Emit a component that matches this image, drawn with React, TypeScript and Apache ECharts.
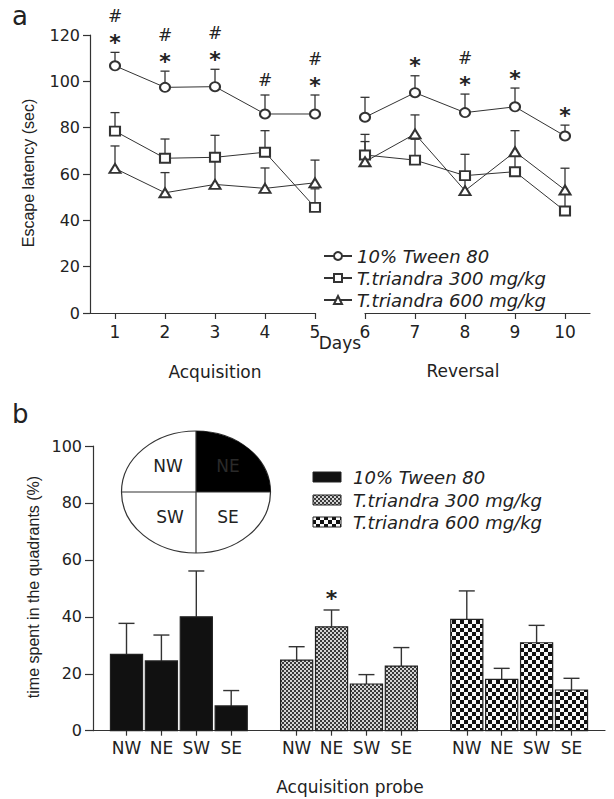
import React, { useEffect, useRef } from "react";
import * as echarts from "echarts";

// ---------- Panel a: escape latency ----------
const days = [1, 2, 3, 4, 5, 6, 7, 8, 9, 10];
const groupNames = ["10% Tween 80", "T.triandra 300 mg/kg", "T.triandra 600 mg/kg"];
const tweenMean = [106.7, 97.4, 97.7, 85.9, 85.9, 84.5, 95.1, 86.5, 89.0, 76.4];
const tweenSem = [5.8, 7.0, 7.5, 8.2, 8.2, 8.6, 7.3, 8.0, 8.1, 4.7];
const t300Mean = [78.5, 66.8, 67.2, 69.4, 45.6, 68.2, 66.0, 59.3, 61.0, 44.0];
const t300Sem = [8.0, 8.3, 9.5, 9.3, 8.0, 8.9, 9.0, 9.2, 7.0, 8.0];
const t600Mean = [62.4, 51.9, 55.5, 53.8, 56.2, 65.3, 77.3, 52.8, 69.6, 53.1];
const t600Sem = [9.7, 8.7, 10.0, 8.8, 9.8, 8.7, 8.2, 6.0, 9.1, 9.4];
const tweenMarks = ["#*", "#*", "#*", "#", "#*", "", "*", "#*", "*", "*"];
const acqTicks = [1, 2, 3, 4, 5];
const revTicks = [6, 7, 8, 9, 10];

// ---------- Panel b: quadrant time ----------
const quadrants = ["NW", "NE", "SW", "SE"];
const tweenQuad = [26.8, 24.5, 40.0, 8.7];
const tweenQuadSem = [10.9, 9.1, 16.1, 5.4];
const t300Quad = [24.8, 36.5, 16.4, 22.7];
const t300QuadSem = [4.7, 5.9, 3.3, 6.5];
const t600Quad = [39.1, 18.0, 30.9, 14.3];
const t600QuadSem = [10.0, 3.9, 6.1, 4.1];
const quadMarks = [
  ["", "", "", ""],
  ["", "*", "", ""],
  ["", "", "", ""],
];

const GROUP_STEP = 4.875;
const H = "DejaVu Sans";
const V = "Liberation Sans";
const INK = "#222";

function makePattern(size: number, cell: number, dark: string, light: string) {
  const c = document.createElement("canvas");
  c.width = size;
  c.height = size;
  const ctx = c.getContext("2d")!;
  ctx.fillStyle = light;
  ctx.fillRect(0, 0, size, size);
  ctx.fillStyle = dark;
  ctx.fillRect(0, 0, cell, cell);
  ctx.fillRect(cell, cell, cell, cell);
  return { image: c.toDataURL(), repeat: "repeat", imageWidth: size, imageHeight: size };
}

export default function App() {
  const ref = useRef<HTMLDivElement>(null);

  useEffect(() => {
    document.body.style.margin = "0";
    const chart = echarts.init(ref.current!, null, { renderer: "svg" });

    const means = [tweenMean, t300Mean, t600Mean];
    const sems = [tweenSem, t300Sem, t600Sem];
    const symbols = ["emptyCircle", "emptyRect", "emptyTriangle"];
    const symSizes = [
      [10, 9],
      [10, 9],
      [11, 9],
    ];

    const series: any[] = [];
    [0, 1].forEach((gi) => {
      const idxs = days.map((_, i) => i).filter((i) => (gi === 0 ? days[i] <= 5 : days[i] > 5));
      means.forEach((m, g) => {
        series.push({
          type: "line",
          name: groupNames[g],
          xAxisIndex: gi,
          yAxisIndex: gi,
          data: idxs.map((i) => [days[i], m[i]]),
          symbol: symbols[g],
          symbolSize: symSizes[g],
          clip: false,
          z: 3,
          lineStyle: { color: "#333", width: 1 },
          itemStyle: { color: "#333", borderColor: "#333", borderWidth: 1 },
        });
        series.push({
          type: "custom",
          name: "err" + g,
          xAxisIndex: gi,
          yAxisIndex: gi,
          z: 1,
          data: idxs.map((i) => [days[i], m[i], m[i] + sems[g][i]]),
          encode: { x: 0, y: [1, 2] },
          renderItem: (params: any, api: any) => {
            const x = api.value(0);
            const p1 = api.coord([x, api.value(1)]);
            const p2 = api.coord([x, api.value(2)]);
            const st = { stroke: "#333", lineWidth: 1.3 };
            return {
              type: "group",
              children: [
                { type: "line", shape: { x1: p1[0], y1: p1[1], x2: p2[0], y2: p2[1] }, style: st },
                { type: "line", shape: { x1: p2[0] - 4.5, y1: p2[1], x2: p2[0] + 4.5, y2: p2[1] }, style: st },
              ],
            };
          },
        });
      });
      series.push({
        type: "custom",
        name: "marks",
        xAxisIndex: gi,
        yAxisIndex: gi,
        z: 4,
        data: idxs.map((i) => [days[i], tweenMean[i] + tweenSem[i], i]),
        encode: { x: 0, y: 1 },
        renderItem: (params: any, api: any) => {
          const i = api.value(2);
          const p = api.coord([api.value(0), api.value(1)]);
          const chars = tweenMarks[i].split("").reverse();
          return {
            type: "group",
            children: chars.map((ch, k) => ({
              type: "text",
              style: {
                text: ch,
                x: p[0],
                y: p[1] - 15 - k * 21 + (ch === "*" ? 5 : 0),
                align: "center",
                verticalAlign: "middle",
                fill: INK,
                font: ch === "*" ? `bold 22px "${H}"` : `17px "${H}"`,
              },
            })),
          };
        },
      });
    });

    const pats = [
      "#111",
      makePattern(4, 2, "#3a3a3a", "#d4d4d4"),
      makePattern(8, 4, "#111", "#fafafa"),
    ];
    const quadVals = [tweenQuad, t300Quad, t600Quad];
    const quadSems = [tweenQuadSem, t300QuadSem, t600QuadSem];
    const positions: number[] = [];
    quadVals.forEach((_, g) => quadrants.forEach((_, i) => positions.push(g * GROUP_STEP + i)));

    quadVals.forEach((vals, g) => {
      series.push({
        type: "custom",
        name: "bar" + g,
        xAxisIndex: 2,
        yAxisIndex: 2,
        data: vals.map((v, i) => [g * GROUP_STEP + i, v, v + quadSems[g][i], i]),
        encode: { x: 0, y: [1, 2] },
        renderItem: (params: any, api: any) => {
          const x = api.value(0);
          const i = api.value(3);
          const base = api.coord([x, 0]);
          const top = api.coord([x, api.value(1)]);
          const et = api.coord([x, api.value(2)]);
          const w = api.size([1, 0])[0] * 0.92;
          const st = { stroke: "#333", lineWidth: 1.4 };
          const children: any[] = [
            { type: "line", shape: { x1: top[0], y1: top[1], x2: et[0], y2: et[1] }, style: st },
            { type: "line", shape: { x1: et[0] - 8, y1: et[1], x2: et[0] + 8, y2: et[1] }, style: st },
            {
              type: "rect",
              shape: { x: base[0] - w / 2, y: top[1], width: w, height: base[1] - top[1] },
              style: { fill: pats[g], stroke: "#222", lineWidth: 1.2 },
            },
          ];
          const mk = quadMarks[g][i];
          if (mk) {
            children.push({
              type: "text",
              style: {
                text: mk,
                x: et[0],
                y: et[1] - 16 + 5,
                align: "center",
                verticalAlign: "middle",
                fill: INK,
                font: `bold 22px "${H}"`,
              },
            });
          }
          return { type: "group", children };
        },
      });
    });

    const axisLine = { show: true, onZero: false, lineStyle: { color: "#333", width: 1.2 } };
    const tickLabel = { color: INK, fontFamily: H, fontSize: 16 };

    const RX = 74.5;
    const RY = 61;
    const CX = 196;
    const CY = 492;

    const graphic: any[] = [
      { type: "text", x: 12, y: 16, style: { text: "a", font: `26px "${H}"`, fill: INK, verticalAlign: "middle" } },
      { type: "text", x: 12, y: 414, style: { text: "b", font: `26px "${H}"`, fill: INK, verticalAlign: "middle" } },
      {
        type: "text",
        x: 28,
        y: 173,
        rotation: Math.PI / 2,
        style: { text: "Escape latency (sec)", font: `16px "${V}"`, fill: INK, align: "center", verticalAlign: "middle" },
      },
      {
        type: "text",
        x: 33,
        y: 587,
        rotation: Math.PI / 2,
        style: { text: "time spent in the quadrants (%)", font: `16px "${V}"`, fill: INK, align: "center", verticalAlign: "middle" },
      },
      { type: "text", x: 340, y: 343, style: { text: "Days", font: `17px "${H}"`, fill: INK, align: "center", verticalAlign: "middle" } },
      { type: "text", x: 215, y: 372, style: { text: "Acquisition", font: `17px "${H}"`, fill: INK, align: "center", verticalAlign: "middle" } },
      { type: "text", x: 463, y: 371, style: { text: "Reversal", font: `17px "${H}"`, fill: INK, align: "center", verticalAlign: "middle" } },
      { type: "text", x: 350, y: 787, style: { text: "Acquisition probe", font: `17px "${H}"`, fill: INK, align: "center", verticalAlign: "middle" } },
      // quadrant inset
      { type: "ellipse", shape: { cx: CX, cy: CY, rx: RX, ry: RY }, style: { fill: "#fff", stroke: "#333", lineWidth: 1.2 }, z: 10 },
      {
        type: "sector",
        x: CX,
        y: CY,
        scaleX: RX / RY,
        shape: { cx: 0, cy: 0, r: RY, r0: 0, startAngle: -Math.PI / 2, endAngle: 0, clockwise: true },
        style: { fill: "#000" },
        z: 11,
      },
      { type: "line", shape: { x1: CX - RX, y1: CY, x2: CX + RX, y2: CY }, style: { stroke: "#333", lineWidth: 1.2 }, z: 12 },
      { type: "line", shape: { x1: CX, y1: CY - RY, x2: CX, y2: CY + RY }, style: { stroke: "#333", lineWidth: 1.2 }, z: 12 },
      { type: "text", x: 168, y: 466, z: 13, style: { text: "NW", font: `17px "${H}"`, fill: INK, align: "center", verticalAlign: "middle" } },
      { type: "text", x: 228, y: 466, z: 13, style: { text: "NE", font: `17px "${H}"`, fill: "#2a2a2a", align: "center", verticalAlign: "middle" } },
      { type: "text", x: 170, y: 517, z: 13, style: { text: "SW", font: `17px "${H}"`, fill: INK, align: "center", verticalAlign: "middle" } },
      { type: "text", x: 228, y: 517, z: 13, style: { text: "SE", font: `17px "${H}"`, fill: INK, align: "center", verticalAlign: "middle" } },
    ];
    const legRows = [477, 500, 522];
    groupNames.forEach((n, g) => {
      graphic.push({
        type: "rect",
        shape: { x: 313, y: legRows[g] - 5, width: 28, height: 10 },
        style: { fill: pats[g], stroke: "#222", lineWidth: 1 },
      });
      graphic.push({
        type: "text",
        x: 353,
        y: legRows[g],
        style: { text: n, font: `italic 18px "${H}"`, fill: INK, align: "left", verticalAlign: "middle" },
      });
    });

    chart.setOption({
      animation: false,
      backgroundColor: "#fff",
      grid: [
        { left: 90, top: 35, width: 225, height: 278 },
        { left: 365, top: 35, width: 225, height: 278 },
        { left: 93, top: 446, width: 512, height: 284.7 },
      ],
      legend: {
        orient: "vertical",
        left: 318,
        top: 242,
        itemWidth: 28,
        itemHeight: 10,
        itemGap: 4,
        data: groupNames,
        textStyle: { fontFamily: H, fontSize: 18, fontStyle: "italic", color: INK, lineHeight: 18 },
      },
      xAxis: [
        {
          type: "value",
          gridIndex: 0,
          min: 0.5,
          max: 5,
          axisLine,
          splitLine: { show: false },
          axisTick: { customValues: acqTicks, length: 6, lineStyle: { color: "#333", width: 1.2 } },
          axisLabel: { customValues: acqTicks, margin: 10, ...tickLabel, fontSize: 17 },
        },
        {
          type: "value",
          gridIndex: 1,
          min: 6,
          max: 10.5,
          axisLine,
          splitLine: { show: false },
          axisTick: { customValues: revTicks, length: 6, lineStyle: { color: "#333", width: 1.2 } },
          axisLabel: { customValues: revTicks, margin: 10, ...tickLabel, fontSize: 17 },
        },
        {
          type: "value",
          gridIndex: 2,
          min: -0.96,
          max: 13.71,
          axisLine,
          splitLine: { show: false },
          axisTick: { customValues: positions, length: 5, lineStyle: { color: "#333", width: 1.2 } },
          axisLabel: {
            customValues: positions,
            margin: 9,
            ...tickLabel,
            fontSize: 17,
            formatter: (v: number) => {
              const idx = positions.findIndex((p) => Math.abs(p - v) < 1e-6);
              return idx >= 0 ? quadrants[idx % 4] : "";
            },
          },
        },
      ],
      yAxis: [
        {
          type: "value",
          gridIndex: 0,
          min: 0,
          max: 120,
          interval: 20,
          axisLine,
          splitLine: { show: false },
          axisTick: { show: true, length: 7, lineStyle: { color: "#333", width: 1.2 } },
          axisLabel: { margin: 10, ...tickLabel },
        },
        { type: "value", gridIndex: 1, min: 0, max: 120, show: false, splitLine: { show: false } },
        {
          type: "value",
          gridIndex: 2,
          min: 0,
          max: 100,
          interval: 20,
          axisLine,
          splitLine: { show: false },
          axisTick: { show: true, length: 8, lineStyle: { color: "#333", width: 1.2 } },
          axisLabel: { margin: 11, ...tickLabel },
        },
      ],
      graphic,
      series,
    });

    return () => chart.dispose();
  }, []);

  return <div ref={ref} style={{ width: 614, height: 799 }} />;
}
